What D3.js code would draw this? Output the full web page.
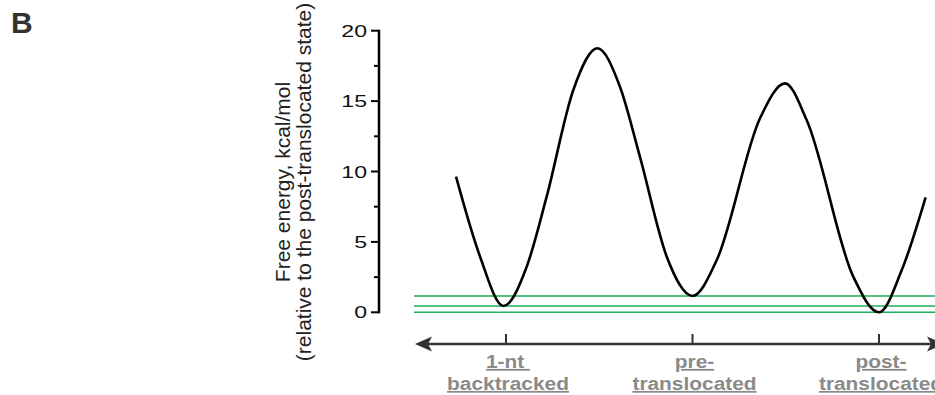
<!DOCTYPE html>
<html>
<head>
<meta charset="utf-8">
<script src="https://cdn.jsdelivr.net/npm/d3@7"></script>
<style>
  body { margin: 0; background: #fff; }
  svg { display: block; font-family: "Liberation Sans", Arial, sans-serif; }
</style>
</head>
<body>
<script>
// states along the reaction coordinate (tick positions -1, 0, 1)
const statePos = [-1, 0, 1];
const stateLine1 = ["1-nt ", "pre-", "post-"];
const stateLine2 = ["backtracked", "translocated", "translocated"];

// energy profile
const profileX = [-1.268, -1.139, -1.014, -0.889, -0.782, -0.639, -0.51, -0.389, -0.282,
  -0.138, 0, 0.13, 0.362, 0.496, 0.612, 0.862, 1.0, 1.122, 1.25];
const profileY = [9.63, 3.95, 0.45, 3.24, 8.21, 15.79, 18.75, 16.02, 11.05,
  3.95, 1.16, 3.71, 13.78, 16.26, 13.66, 2.53, 0.0, 3.0, 8.17];

// horizontal levels of the three minima
const levels = [1.16, 0.45, 0];

const yMajor = [0, 5, 10, 15, 20];
const yMinor = [2.5, 7.5, 12.5, 17.5];

const W = 935, H = 395;

const svg = d3.select("body").append("svg")
  .attr("width", W)
  .attr("height", H);

const x = d3.scaleLinear().domain([-1, 1]).range([506, 879]);
const y = d3.scaleLinear().domain([0, 20]).range([312.3, 30.7]);

// panel letter
svg.append("text")
  .attr("x", 11)
  .attr("y", 33)
  .attr("font-size", 30)
  .attr("font-weight", "bold")
  .attr("fill", "#333")
  .text("B");

// y axis
const yAxis = svg.append("g").attr("transform", "translate(379,0)");
yAxis.append("line")
  .attr("y1", y(20) - 1).attr("y2", y(0) + 1)
  .attr("stroke", "#000").attr("stroke-width", 2.5);
yAxis.selectAll(".major").data(yMajor).join("line")
  .attr("x1", -8).attr("x2", 0)
  .attr("y1", (d) => y(d)).attr("y2", (d) => y(d))
  .attr("stroke", "#000").attr("stroke-width", 2);
yAxis.selectAll(".minor").data(yMinor).join("line")
  .attr("x1", -5).attr("x2", 0)
  .attr("y1", (d) => y(d)).attr("y2", (d) => y(d))
  .attr("stroke", "#000").attr("stroke-width", 2);
yAxis.selectAll("text").data(yMajor).join("text")
  .attr("transform", (d) => `translate(-12,${y(d) + 6}) scale(1.4,1)`)
  .attr("text-anchor", "end")
  .attr("font-size", 16.5)
  .attr("fill", "#111")
  .text((d) => d);

// y title
svg.append("text")
  .attr("transform", "translate(290,182) rotate(-90)")
  .attr("text-anchor", "middle")
  .attr("font-size", 21)
  .attr("fill", "#222")
  .text("Free energy, kcal/mol");
svg.append("text")
  .attr("transform", "translate(311,182) rotate(-90)")
  .attr("text-anchor", "middle")
  .attr("font-size", 21)
  .attr("fill", "#222")
  .text("(relative to the post-translocated state)");

// green levels
svg.selectAll(".level").data(levels).join("line")
  .attr("x1", 414).attr("x2", W)
  .attr("y1", (d) => y(d)).attr("y2", (d) => y(d))
  .attr("stroke", "#1daf5b").attr("stroke-width", 1.4);

// energy profile
const line = d3.line()
  .x((d) => x(d[0]))
  .y((d) => y(d[1]))
  .curve(d3.curveMonotoneX);
svg.append("path")
  .datum(d3.zip(profileX, profileY))
  .attr("d", line)
  .attr("fill", "none")
  .attr("stroke", "#000")
  .attr("stroke-width", 2.6);

// x axis with arrows
const axisY = 344;
const xa = svg.append("g");
xa.append("line")
  .attr("x1", 425).attr("x2", 935)
  .attr("y1", axisY).attr("y2", axisY)
  .attr("stroke", "#333").attr("stroke-width", 2.5);
xa.append("path")
  .attr("d", `M415,${axisY} L432,${axisY - 7.5} L428,${axisY} L432,${axisY + 7.5} Z`)
  .attr("fill", "#333");
xa.append("path")
  .attr("d", `M944,${axisY} L927,${axisY - 7.5} L931,${axisY} L927,${axisY + 7.5} Z`)
  .attr("fill", "#333");
xa.selectAll(".tick").data(statePos).join("line")
  .attr("x1", (d) => x(d)).attr("x2", (d) => x(d))
  .attr("y1", axisY - 10).attr("y2", axisY)
  .attr("stroke", "#333").attr("stroke-width", 2);

const lab = svg.selectAll(".state").data(statePos).join("g")
  .attr("transform", (d) => `translate(${x(d) + 2},0)`);
lab.append("text")
  .attr("transform", "translate(0,368) scale(1.16,1)")
  .attr("text-anchor", "middle")
  .attr("font-size", 18)
  .attr("font-weight", "bold")
  .attr("fill", "#8a8a8a")
  .style("text-decoration", "underline")
  .style("white-space", "pre")
  .text((d, i) => stateLine1[i]);
lab.append("text")
  .attr("transform", "translate(0,390) scale(1.16,1)")
  .attr("text-anchor", "middle")
  .attr("font-size", 18)
  .attr("font-weight", "bold")
  .attr("fill", "#8a8a8a")
  .style("text-decoration", "underline")
  .text((d, i) => stateLine2[i]);
</script>
</body>
</html>
